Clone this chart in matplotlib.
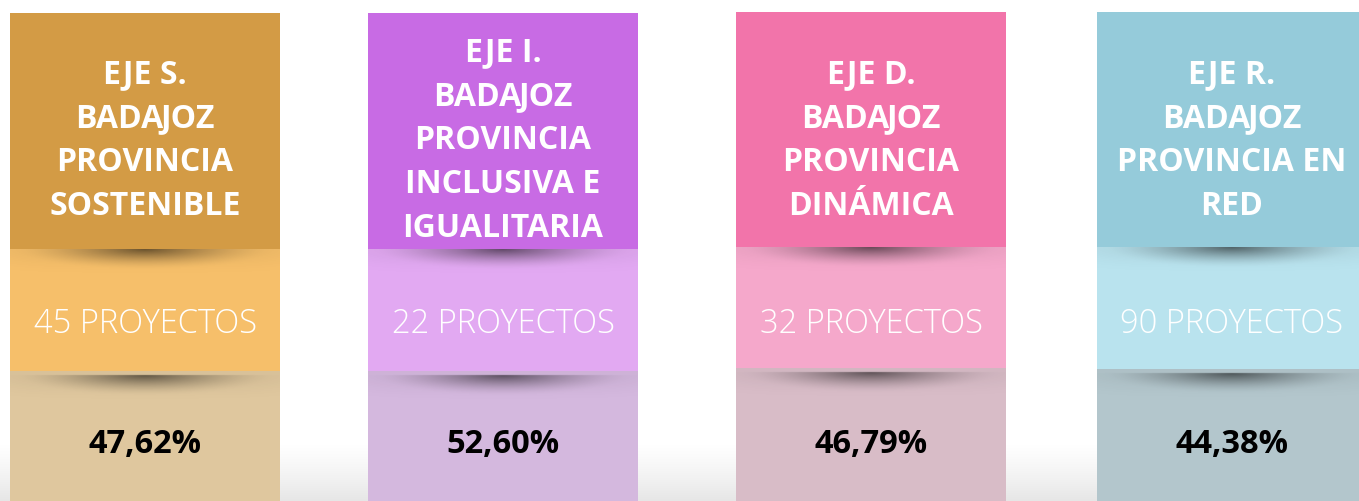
import numpy as np
import matplotlib.pyplot as plt

# card data
ejes = ["EJE S.\nBADAJOZ\nPROVINCIA\nSOSTENIBLE",
        "EJE I.\nBADAJOZ\nPROVINCIA\nINCLUSIVA E\nIGUALITARIA",
        "EJE D.\nBADAJOZ\nPROVINCIA\nDINÁMICA",
        "EJE R.\nBADAJOZ\nPROVINCIA EN\nRED"]
proyectos = [45, 22, 32, 90]
porcentajes = ["47,62%", "52,60%", "46,79%", "44,38%"]

head_colors = ["#D39B45", "#C86BE4", "#F274AA", "#95CBDA"]
mid_colors = ["#F6BF6A", "#E2A9F2", "#F5A8CB", "#B9E3EE"]
low_colors = ["#DFC79E", "#D4B8DE", "#D8BCC7", "#B3C6CC"]

# layout (pixels)
W, H = 1359, 502
lefts = [10, 368, 736, 1097]
tops = [14, 14, 13, 13]
head_end = [250, 250, 248, 248]
mid_end = [372, 372, 369, 370]
card_w = 270

fig = plt.figure(figsize=(W / 100, H / 100), dpi=100)
ax = fig.add_axes([0, 0, 1, 1])
ax.set_xlim(0, W)
ax.set_ylim(H, 0)
ax.axis("off")
renderer = fig.canvas.get_renderer()

# soft grey at the bottom of the background
yy = np.linspace(0, 1, 200)[:, None]
bg = np.clip((yy - 0.88) / 0.12, 0, 1) ** 1.3
bg_img = np.zeros((200, 10, 4))
bg_img[..., 3] = np.repeat(bg * 0.1, 10, axis=1)
ax.imshow(bg_img, extent=(0, W, H, 0), aspect="auto", zorder=0,
          interpolation="bilinear")

centers = [l + card_w / 2 for l in lefts]

# three stacked sections per card
ax.bar(centers, np.array(head_end) - np.array(tops), bottom=tops, width=card_w,
       color=head_colors, zorder=1)
ax.bar(centers, np.array(mid_end) - np.array(head_end), bottom=head_end, width=card_w,
       color=mid_colors, zorder=1)
ax.bar(centers, H + 10 - np.array(mid_end), bottom=mid_end, width=card_w,
       color=low_colors, zorder=1)


def shadow(cx, y0, w, gap=0):
    # curved drop shadow just below a section boundary (kept inside the card)
    nx, ny = 300, 60
    x = np.linspace(-0.5, 0.5, nx) * w
    y = np.linspace(0, 30, ny)
    X, Y = np.meshgrid(x, y)
    Yg = np.clip(Y - gap, 0, None)
    r = np.sqrt((X / (w * 0.47)) ** 2 + (Yg / 21) ** 2)
    a = 0.5 * np.clip(1 - r, 0, 1) ** 1.6
    a += 0.07 * np.exp(-(Yg / 14) ** 2) * np.exp(-(X / (w * 0.55)) ** 4)
    a[Y < gap] = 0.03
    img = np.zeros((ny, nx, 4))
    img[..., 3] = a
    ax.imshow(img, extent=(cx - w / 2, cx + w / 2, y0 + 30, y0),
              aspect="auto", zorder=2, interpolation="bilinear")


def kerned_text(cx, y, s, kern=-2.5, **kw):
    # matplotlib skips the GPOS kerning of Open Sans, so tighten "AJ" by hand
    pieces = s.replace("AJ", "A|J").split("|")
    texts = [ax.text(0, y, p, ha="left", va="center_baseline", **kw) for p in pieces]
    widths = [t.get_window_extent(renderer).width for t in texts]
    total = sum(widths) + kern * (len(pieces) - 1)
    x = cx - total / 2
    for t, wd in zip(texts, widths):
        t.set_x(x)
        x += wd + kern


for i in range(4):
    cx = centers[i]
    shadow(cx, head_end[i], card_w)
    shadow(cx, mid_end[i], card_w, gap=4)

    lines = ejes[i].split("\n")
    n = len(lines)
    for k, line in enumerate(lines):
        kerned_text(cx, 137 + (k - (n - 1) / 2) * 44, line, color="white", fontsize=23,
                    fontweight="bold", family="Open Sans", zorder=3)
    ax.text(cx, 320, f"{proyectos[i]} PROYECTOS", ha="center", va="center_baseline",
            color="white", fontsize=23.5, fontweight="light", family="Open Sans", zorder=3)
    ax.text(cx, 441, porcentajes[i], ha="center", va="center_baseline",
            color="black", fontsize=23.5, fontweight="bold", family="Open Sans", zorder=3)

fig.savefig("out.png", dpi=100)
